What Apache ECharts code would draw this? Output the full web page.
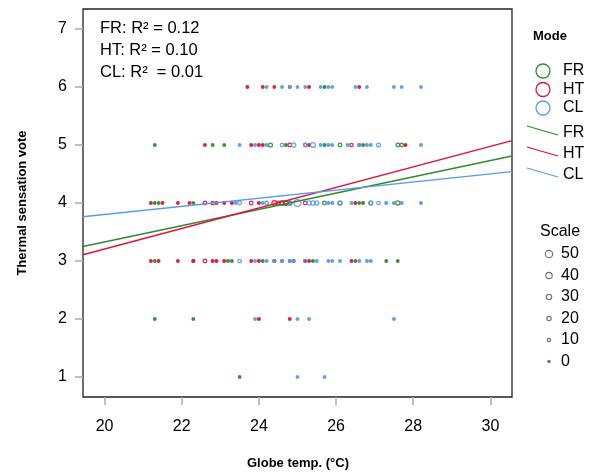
<!DOCTYPE html>
<html><head><meta charset="utf-8">
<script src="https://cdn.jsdelivr.net/npm/echarts@6/dist/echarts.min.js"></script>
<style>html,body{margin:0;padding:0;background:#fff}#c{width:596px;height:472px}</style>
</head><body><div id="c"></div>
<script>
const modes = ['FR', 'HT', 'CL'];
const colors = ['#2E8B2E', '#E3103C', '#5A9BE8'];
const xTicks = [20, 22, 24, 26, 28, 30];
const yTicks = [1, 2, 3, 4, 5, 6, 7];
const xRange = [19.44, 30.56];
const yRange = [0.655, 7.345];

// [globe temp, thermal sensation vote, count]
const fr = [
  [23.5,1,2],
  [21.3,2,2],[22.3,2,2],
  [21.3,3,2],[22.3,3,3],[23.2,3,4],[23.3,3,2],[24.1,3,2],[24.4,3,3],[24.6,3,3],[24.9,3,4],[25.4,3,3],[26.5,3,2],[27.3,3,2],[27.6,3,2],
  [21.3,4,2],[21.4,4,2],[22.3,4,3],[24.6,4,25],[24.7,4,20],[25.7,4,12],[26.1,4,15],[26.6,4,3],[26.7,4,3],[26.9,4,15],[27.6,4,18],
  [21.3,5,2],[22.8,5,2],[23.1,5,2],[24.3,5,15],[24.7,5,4],[25.7,5,3],[26.1,5,12],[26.7,5,3],[27.6,5,12],[27.7,5,12],
  [25.7,6,2]
];
const ht = [
  [24.0,2,3],[24.8,2,2],
  [21.2,3,2],[21.4,3,2],[21.9,3,2],[22.3,3,4],[22.6,3,12],[22.8,3,4],[22.9,3,4],[23.1,3,4],[23.8,3,3],[24.0,3,4],[24.4,3,4],[24.8,3,3],[25.2,3,5],[25.3,3,3],[26.4,3,2],
  [21.2,4,2],[21.5,4,2],[21.9,4,2],[22.2,4,3],[22.6,4,12],[22.8,4,10],[22.9,4,4],[23.1,4,3],[23.3,4,3],[23.8,4,12],[24.0,4,4],[24.4,4,25],[24.5,4,15],[24.7,4,20],[24.8,4,15],[25.2,4,12],[26.5,4,3],
  [22.6,5,2],[23.8,5,3],[24.0,5,3],[24.1,5,3],[24.8,5,12],[25.2,5,8],[25.3,5,3],[26.4,5,8],[26.6,5,3],[27.8,5,3],
  [23.7,6,2],[24.1,6,2],[24.4,6,2],[24.8,6,2],[25.3,6,2],[26.6,6,2]
];
const cl = [
  [25.0,1,2],[25.7,1,2],
  [23.9,2,2],[25.0,2,2],[25.3,2,2],[27.5,2,2],
  [23.5,3,10],[23.9,3,3],[24.2,3,3],[24.4,3,3],[24.6,3,5],[24.8,3,5],[24.9,3,5],[25.2,3,8],[25.5,3,3],[25.8,3,3],[25.9,3,3],[26.1,3,3],[26.6,3,4],[26.8,3,4],[26.9,3,4],
  [23.4,4,3],[23.5,4,12],[24.1,4,4],[24.2,4,12],[24.8,4,20],[25.0,4,45],[25.3,4,18],[25.4,4,20],[25.5,4,18],[25.8,4,5],[25.9,4,4],[26.1,4,15],[26.4,4,5],[26.9,4,12],[27.1,4,10],[27.3,4,5],[27.5,4,4],[27.7,4,5],[28.2,4,3],
  [23.5,5,3],[23.9,5,3],[24.2,5,4],[24.6,5,12],[24.9,5,20],[25.2,5,12],[25.4,5,25],[25.6,5,4],[25.8,5,4],[25.9,5,3],[26.3,5,4],[26.6,5,5],[26.8,5,4],[26.9,5,4],[27.1,5,15],[28.2,5,3],
  [24.2,6,2],[24.6,6,2],[24.8,6,2],[25.0,6,2],[25.2,6,2],[25.6,6,2],[25.8,6,2],[25.9,6,2],[26.5,6,2],[26.8,6,2],[27.5,6,2],[27.7,6,2],[28.2,6,2]
];
const slopes = [0.1403, 0.177, 0.0699];
const intercepts = [0.523, -0.334, 2.404];
const r2Labels = ['FR: R\u00b2 = 0.12', 'HT: R\u00b2 = 0.10', 'CL: R\u00b2  = 0.01'];
const scaleValues = [50, 40, 30, 20, 10, 0];

const sizeOf = n => 2.4 + 0.1 * n;
const FONT = '"Liberation Sans", Arial, sans-serif';

const chart = echarts.init(document.getElementById('c'));
const datasets = [fr, ht, cl];

const series = [];
datasets.forEach((d, i) => {
  series.push({
    type: 'scatter', name: modes[i],
    data: d.map(p => ({ value: p, itemStyle: { color: p[2] < 8 ? colors[i] : 'rgba(0,0,0,0)' } })),
    symbolSize: v => sizeOf(v[2]),
    itemStyle: { borderColor: colors[i], borderWidth: 1.3, opacity: 0.9 },
    emphasis: { disabled: true }, z: 2
  });
});
datasets.forEach((d, i) => {
  series.push({
    type: 'line', name: modes[i] + ' fit', symbol: 'none', clip: true,
    data: xRange.map(x => [x, intercepts[i] + slopes[i] * x]),
    lineStyle: { color: colors[i], width: 1.4 }, z: 3, silent: true
  });
});

const graphic = [];
r2Labels.forEach((t, i) => graphic.push({ type: 'text', x: 100, y: 28 + i * 22,
  style: { text: t, font: '16.5px ' + FONT, fill: '#000', verticalAlign: 'middle', align: 'left' } }));
graphic.push({ type: 'text', x: 298, y: 463, style: { text: 'Globe temp. (\u00b0C)', font: 'bold 13px ' + FONT, fill: '#000', align: 'center', verticalAlign: 'middle' } });
graphic.push({ type: 'text', x: 22, y: 203, rotation: Math.PI / 2, style: { text: 'Thermal sensation vote', font: 'bold 13px ' + FONT, fill: '#000', align: 'center', verticalAlign: 'middle' } });
// Mode legend
graphic.push({ type: 'text', x: 533, y: 36, style: { text: 'Mode', font: 'bold 13px ' + FONT, fill: '#000', align: 'left', verticalAlign: 'middle' } });
modes.forEach((m, i) => {
  const y = 71 + i * 18.5;
  graphic.push({ type: 'circle', shape: { cx: 543, cy: y, r: 7 }, style: { fill: 'none', stroke: colors[i], lineWidth: 1.3 } });
  graphic.push({ type: 'text', x: 563, y: y, style: { text: m, font: '16px ' + FONT, fill: '#000', align: 'left', verticalAlign: 'middle' } });
});
modes.forEach((m, i) => {
  const y = 133 + i * 21;
  graphic.push({ type: 'line', shape: { x1: 527, y1: y - 7, x2: 558, y2: y + 2 }, style: { stroke: colors[i], lineWidth: 1.3 } });
  graphic.push({ type: 'text', x: 563, y: y, style: { text: m, font: '16px ' + FONT, fill: '#000', align: 'left', verticalAlign: 'middle' } });
});
// Scale legend
graphic.push({ type: 'text', x: 540, y: 232, style: { text: 'Scale', font: '16px ' + FONT, fill: '#000', align: 'left', verticalAlign: 'middle' } });
scaleValues.forEach((v, i) => {
  const y = 254 + i * 21.5;
  graphic.push({ type: 'circle', shape: { cx: 549, cy: y, r: sizeOf(v) / 2 }, style: { fill: v < 8 ? '#777' : 'none', stroke: '#777', lineWidth: 1.2 } });
  graphic.push({ type: 'text', x: 561, y: y, style: { text: String(v), font: '16px ' + FONT, fill: '#000', align: 'left', verticalAlign: 'middle' } });
});

chart.setOption({
  animation: false,
  backgroundColor: '#fff',
  grid: { left: 83, right: 84, top: 9, bottom: 75, show: true, borderColor: '#222', borderWidth: 1.3, backgroundColor: 'transparent' },
  xAxis: {
    type: 'value', min: xRange[0], max: xRange[1],
    axisLine: { show: false },
    axisTick: { show: true, length: 8, lineStyle: { color: '#aaa', width: 1.5 }, customValues: xTicks },
    axisLabel: { customValues: xTicks, fontSize: 16, color: '#000', fontFamily: FONT, margin: 22 },
    splitLine: { show: false }
  },
  yAxis: {
    type: 'value', min: yRange[0], max: yRange[1],
    axisLine: { show: false },
    axisTick: { show: true, length: 8, lineStyle: { color: '#aaa', width: 1.5 }, customValues: yTicks },
    axisLabel: { customValues: yTicks, fontSize: 16, color: '#000', fontFamily: FONT, margin: 16 },
    splitLine: { show: false }
  },
  series: series,
  graphic: graphic
});
</script>
</body></html>
